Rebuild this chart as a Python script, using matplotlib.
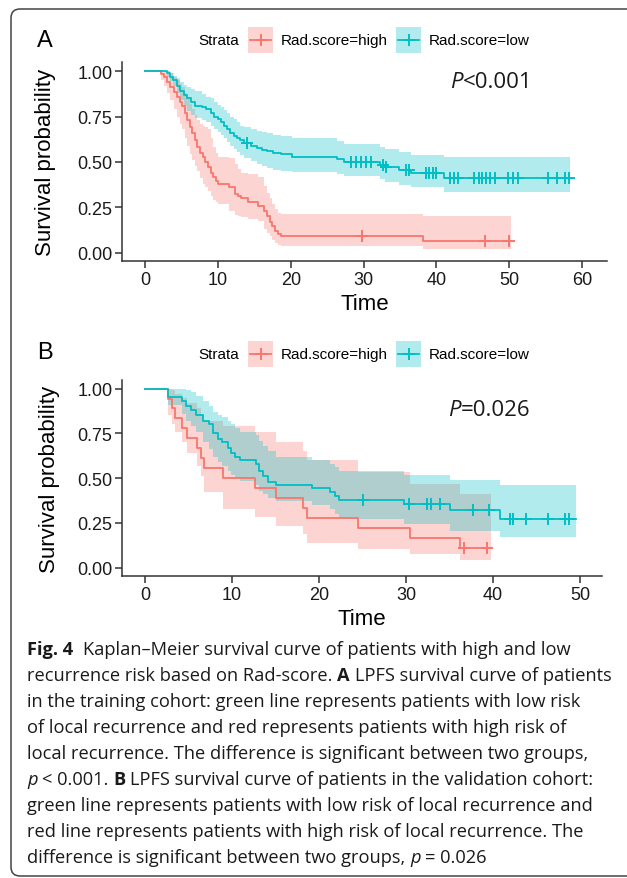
import matplotlib
matplotlib.use('Agg')

import numpy as np
import matplotlib.pyplot as plt
from matplotlib.patches import Rectangle, FancyBboxPatch
from matplotlib.lines import Line2D
from matplotlib.transforms import IdentityTransform

RED = '#F8766D'
TEAL = '#00BFC4'
AXC = '#333333'

# ---- panel A (training cohort) ----
a_high_t = [0, 2.2, 2.6, 3.0, 3.5, 4.0, 4.4, 4.8, 5.1, 5.5, 5.8, 6.2, 6.5, 6.9, 7.2, 7.6, 7.9, 8.3, 8.6,
            9.0, 9.3, 9.7, 10.0, 11.6, 12.3, 12.8, 13.2, 14.1, 15.5, 16.4, 16.8, 17.1, 17.5, 17.8, 18.2, 18.7, 38.2]
a_high_s = [1.0, .983, .967, .94, .91, .885, .857, .83, .81, .77, .73, .695, .66, .62, .58, .55, .526, .50, .47,
            .44, .415, .395, .38, .36, .325, .31, .30, .28, .26, .23, .20, .17, .145, .12, .105, .09, .066]
a_high_up = [1.0, 1.0, 1.0, 1.0, .99, .97, .95, .93, .91, .88, .85, .82, .79, .76, .73, .71, .70, .69, .68,
             .63, .58, .55, .525, .52, .49, .46, .44, .435, .415, .37, .33, .30, .27, .24, .22, .215, .20]
a_high_lo = [1.0, .95, .92, .88, .84, .79, .75, .71, .68, .63, .59, .545, .51, .48, .45, .41, .38, .36, .34,
             .31, .29, .28, .27, .23, .21, .20, .195, .185, .177, .13, .11, .09, .07, .055, .045, .035, .02]
a_high_end = 50.2
a_high_cens = [29.8, 46.6, 50.0]

a_low_t = [0, 3.0, 3.5, 3.9, 4.4, 4.8, 5.3, 5.8, 6.3, 6.9, 7.8, 8.4, 9.0, 9.5, 10.0, 10.4, 10.9, 11.3, 11.7,
           12.2, 12.6, 13.1, 13.6, 14.5, 15.4, 16.0, 16.7, 17.6, 18.6, 20.2, 26.3, 27.3, 32.2, 33.0, 34.8, 36.5, 41.0]
a_low_s = [1.0, .99, .97, .95, .92, .89, .87, .85, .83, .81, .80, .79, .77, .75, .735, .72, .70, .68, .66,
           .645, .63, .62, .605, .59, .575, .565, .56, .55, .545, .53, .515, .50, .485, .47, .455, .44, .41]
a_low_up = [1.0, 1.0, .99, .975, .96, .94, .925, .91, .90, .89, .875, .86, .85, .83, .815, .80, .785, .77, .75,
            .735, .72, .70, .69, .68, .67, .665, .66, .65, .645, .63, .615, .60, .58, .57, .555, .54, .525]
a_low_lo = [1.0, .97, .945, .92, .88, .84, .81, .78, .76, .74, .73, .72, .70, .68, .665, .65, .63, .61, .59,
            .57, .555, .54, .52, .505, .49, .475, .465, .455, .45, .445, .435, .42, .405, .39, .375, .36, .333]
a_low_end = 58.3
a_low_cens = [14.0, 28.3, 29.0, 29.6, 30.3, 31.0, 32.7, 33.1, 35.8, 36.2, 38.6, 39.0, 39.5, 39.9, 41.8, 42.4,
              43.0, 45.2, 45.8, 46.3, 46.8, 47.3, 48.0, 49.8, 50.5, 51.2, 55.3, 56.5, 57.6, 58.2]

# ---- panel B (validation cohort) ----
b_high_t = [0, 2.7, 3.1, 3.5, 4.2, 4.8, 6.0, 6.4, 6.8, 9.0, 12.6, 15.0, 18.1, 18.6, 24.5, 30.4, 36.2]
b_high_s = [1.0, .944, .889, .833, .778, .722, .667, .611, .556, .50, .444, .389, .333, .278, .222, .167, .111]
b_high_up = [1.0, 1.0, .99, .97, .95, .92, .89, .86, .82, .79, .755, .70, .65, .60, .535, .465, .41]
b_high_lo = [1.0, .85, .80, .755, .70, .64, .57, .51, .42, .33, .28, .23, .19, .14, .105, .077, .043]
b_high_end = 39.8
b_high_cens = [36.6, 39.3]

b_low_t = [0, 2.7, 4.3, 4.7, 5.3, 5.9, 6.7, 7.4, 7.8, 8.4, 8.9, 9.5, 9.9, 10.3, 10.9, 12.7, 13.1, 13.5, 14.1,
           15.1, 19.2, 21.3, 21.8, 22.3, 29.7, 35.0, 40.8]
b_low_s = [1.0, .955, .93, .905, .88, .85, .82, .80, .75, .72, .70, .67, .64, .62, .60, .58, .54, .51, .48,
           .46, .445, .42, .40, .38, .354, .322, .27]
b_low_up = [1.0, 1.0, 1.0, .99, .98, .96, .93, .90, .87, .85, .84, .82, .80, .78, .76, .74, .71, .68, .65,
            .62, .60, .58, .56, .54, .52, .49, .46]
b_low_lo = [1.0, .91, .86, .82, .79, .76, .70, .66, .62, .59, .57, .54, .52, .50, .485, .46, .43, .41, .39,
            .37, .35, .33, .30, .27, .245, .205, .17]
b_low_end = 49.5
b_low_cens = [25.1, 30.3, 32.4, 32.8, 33.9, 37.7, 39.5, 41.9, 42.3, 43.8, 46.3, 48.2, 48.7]

y_ticks = [0, 0.25, 0.5, 0.75, 1.0]
y_labels = ['0.00', '0.25', '0.50', '0.75', '1.00']
groups = ['Rad.score=high', 'Rad.score=low']

caption = [
    [('Fig. 4', 'bold', 'normal'), ('  Kaplan\u2013Meier survival curve of patients with high and low', 'normal', 'normal')],
    [('recurrence risk based on Rad-score. ', 'normal', 'normal'), ('A', 'bold', 'normal'),
     (' LPFS survival curve of patients', 'normal', 'normal')],
    [('in the training cohort: green line represents patients with low risk', 'normal', 'normal')],
    [('of local recurrence and red represents patients with high risk of', 'normal', 'normal')],
    [('local recurrence. The difference is significant between two groups,', 'normal', 'normal')],
    [('p', 'normal', 'italic'), (' < 0.001. ', 'normal', 'normal'), ('B', 'bold', 'normal'),
     (' LPFS survival curve of patients in the validation cohort:', 'normal', 'normal')],
    [('green line represents patients with low risk of local recurrence and', 'normal', 'normal')],
    [('red line represents patients with high risk of local recurrence. The', 'normal', 'normal')],
    [('difference is significant between two groups, ', 'normal', 'normal'), ('p', 'normal', 'italic'),
     (' = 0.026', 'normal', 'normal')],
]

W, H = 627, 879
fig = plt.figure(figsize=(W / 100, H / 100), dpi=100)
renderer = fig.canvas.get_renderer()


def fx(px):
    return px / W


def fy(py):
    return 1 - py / H


def km(ax, t, s, up, lo, t_end, cens, color):
    t = np.asarray(t, float)
    s = np.asarray(s, float)
    te = np.append(t, t_end)
    se = np.append(s, s[-1])
    upe = np.append(up, up[-1])
    loe = np.append(lo, lo[-1])
    ax.fill_between(te, loe, upe, step='post', color=color, alpha=0.3, lw=0)
    ax.step(te, se, where='post', color=color, lw=1.3)
    idx = np.searchsorted(t, cens, side='right') - 1
    ax.plot(cens, s[idx], ls='none', marker='+', ms=8, mew=1.4, color=color)


def style_axes(ax, xticks):
    for sp in ['top', 'right']:
        ax.spines[sp].set_visible(False)
    for sp in ['left', 'bottom']:
        ax.spines[sp].set_color(AXC)
        ax.spines[sp].set_linewidth(1.1)
    ax.set_xticks(xticks)
    ax.set_yticks(y_ticks)
    ax.set_yticklabels(y_labels)
    ax.tick_params(direction='out', length=5, width=1.1, color=AXC, labelsize=13,
                   labelcolor='#1a1a1a', pad=2)
    for lab in ax.get_xticklabels() + ax.get_yticklabels():
        lab.set_family('Liberation Sans')


def put_line(x, y, parts, size, family):
    sp_w = (fig.text(0, 0, 'a a', fontsize=size, family=family).get_window_extent(renderer).width
            - fig.text(0, 0, 'aa', fontsize=size, family=family).get_window_extent(renderer).width)
    fig.texts[-2].remove()
    fig.texts[-1].remove()
    for text, weight, style in parts:
        x += (len(text) - len(text.lstrip(' '))) * sp_w
        core = text.strip(' ')
        t = fig.text(fx(x), fy(y), core, fontsize=size, fontweight=weight, fontstyle=style,
                     family=family, va='center', ha='left', color='#1a1a1a')
        x += t.get_window_extent(renderer).width
        x += (len(text) - len(text.rstrip(' '))) * sp_w
    return x


def legend(y, x0):
    fig.text(fx(x0), fy(y), 'Strata', fontsize=11, family='Liberation Sans', va='center', ha='left')
    keys = [(x0 + 50, RED, groups[0]), (x0 + 198, TEAL, groups[1])]
    for kx, col, lab in keys:
        fig.add_artist(Rectangle((fx(kx), fy(y + 13)), 25 / W, 26 / H, transform=fig.transFigure,
                                 facecolor=col, alpha=0.3, lw=0))
        fig.add_artist(Line2D([fx(kx + 2), fx(kx + 23)], [fy(y), fy(y)], transform=fig.transFigure,
                              color=col, lw=1.3))
        fig.add_artist(Line2D([fx(kx + 12.5)], [fy(y)], transform=fig.transFigure, color=col,
                              marker='+', ms=8, mew=1.4))
        fig.text(fx(kx + 33), fy(y), lab, fontsize=11, family='Liberation Sans', va='center', ha='left')


# panel A
axA = fig.add_axes([fx(122), fy(262), (607 - 122) / W, (262 - 63) / H])
km(axA, a_high_t, a_high_s, a_high_up, a_high_lo, a_high_end, a_high_cens, RED)
km(axA, a_low_t, a_low_s, a_low_up, a_low_lo, a_low_end, a_low_cens, TEAL)
axA.set_xlim(-3.15, 63.4)
axA.set_ylim(-0.045, 1.05)
style_axes(axA, range(0, 61, 10))

# panel B
axB = fig.add_axes([fx(122), fy(577), (602 - 122) / W, (577 - 381) / H])
km(axB, b_high_t, b_high_s, b_high_up, b_high_lo, b_high_end, b_high_cens, RED)
km(axB, b_low_t, b_low_s, b_low_up, b_low_lo, b_low_end, b_low_cens, TEAL)
axB.set_xlim(-2.64, 52.5)
axB.set_ylim(-0.047, 1.048)
style_axes(axB, range(0, 51, 10))

for ax, lx, ty in [(axA, -0.136, -0.16), (axB, -0.13, -0.165)]:
    ax.set_xlabel('Time', fontsize=16, family='Liberation Sans')
    ax.set_ylabel('Survival probability', fontsize=16, family='Liberation Sans')
    ax.xaxis.set_label_coords(0.5, ty)
    ax.yaxis.set_label_coords(lx, 0.5)

legend(41, 198)
legend(355, 198)

fig.text(fx(37), fy(41), 'A', fontsize=17, family='Liberation Sans', va='center', ha='left')
fig.text(fx(37), fy(353), 'B', fontsize=17, family='Liberation Sans', va='center', ha='left')

put_line(450, 82, [('P', 'normal', 'italic'), ('<0.001', 'normal', 'normal')], 16, 'Open Sans')
put_line(448, 411, [('P', 'normal', 'italic'), ('=0.026', 'normal', 'normal')], 16, 'Open Sans')

# caption: font size fitted so the second line spans the text block width
probe = fig.text(0, 0, 'recurrence risk based on Rad-score. A LPFS survival curve of patients',
                 fontsize=12, family='Open Sans')
cap_size = 12 * 579 / probe.get_window_extent(renderer).width
probe.remove()
for i, parts in enumerate(caption):
    put_line(27, 650 + 26 * i, parts, cap_size, 'Open Sans')

# frame with rounded corners
fig.add_artist(FancyBboxPatch((11, H - 877), 660, 867, boxstyle='round,pad=0,rounding_size=9',
                              transform=IdentityTransform(), facecolor='none', edgecolor='#444444', lw=1.1))

fig.savefig('out.png', dpi=100)
